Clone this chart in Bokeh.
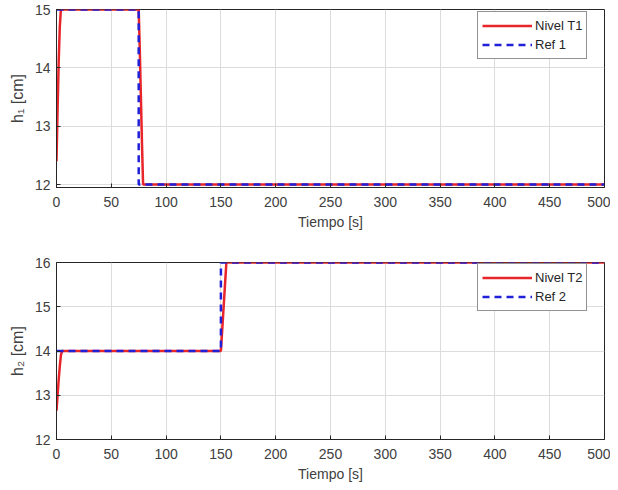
from bokeh.plotting import figure
from bokeh.layouts import column
from bokeh.models import FixedTicker, Legend, LegendItem, Range1d
from bokeh.embed import file_html
from bokeh.resources import INLINE

# ---- data ----
t1_level = [0, 1, 2, 3, 4, 75, 76, 77, 78, 79, 500]
h1_level = [12.4, 13.3, 14.1, 14.7, 15.0, 15.0, 14.3, 13.5, 12.7, 12.0, 12.0]
t1_ref = [0, 75, 75, 500]
h1_ref = [15, 15, 12, 12]

t2_level = [0, 1, 2, 3, 4, 5, 150, 151, 152, 153, 154, 155, 500]
h2_level = [12.65, 13.0, 13.35, 13.65, 13.9, 14.0, 14.0, 14.4, 14.8, 15.2, 15.6, 16.0, 16.0]
t2_ref = [0, 150, 150, 500]
h2_ref = [14, 14, 16, 16]

x_ticks = [0, 50, 100, 150, 200, 250, 300, 350, 400, 450, 500]
y1_ticks = [12, 13, 14, 15]
y2_ticks = [12, 13, 14, 15, 16]

RED = "#e8252a"
BLUE = "#2020d8"
TXT = "#404040"
FONT = "Liberation Sans"


def make(t_l, h_l, t_r, h_r, yr, yticks, ylabel, lab_l, lab_r, height, bt, bb):
    p = figure(width=610, height=height, output_backend="svg", toolbar_location=None,
               x_range=Range1d(0, 500), y_range=Range1d(*yr),
               min_border_left=56, min_border_right=6, min_border_top=bt, min_border_bottom=bb)
    p.outline_line_color = "#262626"
    p.outline_line_width = 1
    p.background_fill_color = "white"
    p.border_fill_color = "white"
    r1 = p.line(t_l, h_l, line_color=RED, line_width=2.5)
    r2 = p.line(t_r, h_r, line_color=BLUE, line_width=2.5, line_dash="7 5")
    for ax in (p.xaxis[0], p.yaxis[0]):
        ax.major_tick_in = 4
        ax.major_tick_out = 0
        ax.minor_tick_line_color = None
        ax.axis_line_color = "#262626"
        ax.major_tick_line_color = "#262626"
        ax.major_label_text_font = FONT
        ax.major_label_text_font_size = "14px"
        ax.major_label_text_color = TXT
        ax.axis_label_text_font = FONT
        ax.axis_label_text_font_size = "14px"
        ax.axis_label_text_font_style = "normal"
        ax.axis_label_text_color = TXT
    p.xaxis[0].ticker = FixedTicker(ticks=x_ticks)
    p.yaxis[0].ticker = FixedTicker(ticks=yticks)
    p.xaxis[0].axis_label = "Tiempo [s]"
    p.xaxis[0].major_label_standoff = 9
    p.xaxis[0].axis_label_standoff = 4
    p.yaxis[0].axis_label = ylabel
    p.yaxis[0].axis_label_text_font_size = "16px"
    p.yaxis[0].major_label_standoff = 6
    p.yaxis[0].axis_label_standoff = 6
    p.xgrid.ticker = FixedTicker(ticks=x_ticks)
    p.ygrid.ticker = FixedTicker(ticks=yticks)
    p.grid.grid_line_color = "#dcdcdc"
    p.grid.grid_line_width = 1
    legend = Legend(items=[LegendItem(label=lab_l, renderers=[r1]),
                           LegendItem(label=lab_r, renderers=[r2])],
                    location=(421, 128), border_line_color="#262626", border_line_width=1,
                    label_text_font=FONT, label_text_font_size="13px", label_text_color="#262626",
                    glyph_width=50, glyph_height=19, label_height=19, label_standoff=3,
                    spacing=0, padding=4, margin=0, background_fill_alpha=1)
    p.add_layout(legend, "center")
    return p


p1 = make(t1_level, h1_level, t1_ref, h1_ref, (11.95, 15.0), y1_ticks, "h₁ [cm]",
          "Nivel T1", "Ref 1", 250, 9, 63)
p2 = make(t2_level, h2_level, t2_ref, h2_ref, (12, 16), y2_ticks, "h₂ [cm]",
          "Nivel T2", "Ref 2", 234, 12, 44)

lay = column(p1, p2, spacing=0)
open("out.html", "w").write(file_html(lay, INLINE))
